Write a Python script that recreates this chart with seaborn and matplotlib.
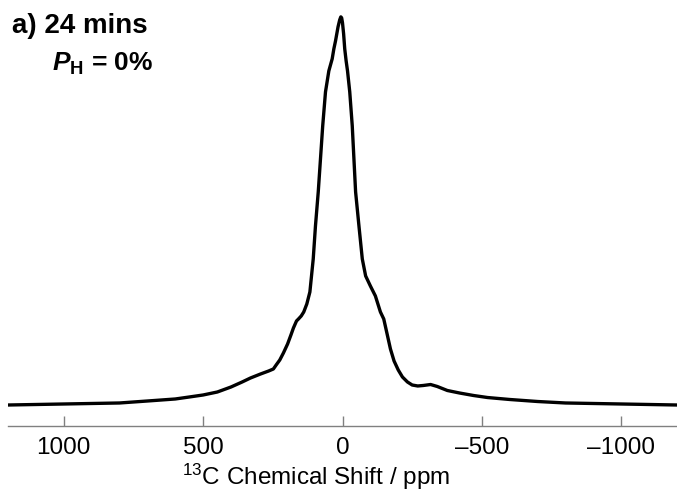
import matplotlib
matplotlib.use("Agg")
import matplotlib.pyplot as plt
import seaborn as sns
import pandas as pd

# --- values ---
# chemical shift (ppm), high to low
shift_ppm = [1200, 1100, 1000, 900, 800, 700, 600, 550, 500, 449, 400, 360, 330,
             294, 265, 248, 238, 225, 212, 197, 185, 176, 165, 158, 148, 139,
             128, 117, 105, 97, 87, 79, 71, 61, 49, 37, 31, 25, 16, 10, 6, 3, 0,
             -4, -8, -13, -18, -26, -35, -41, -47, -59, -71, -83, -100, -118,
             -136, -148, -160, -172, -185, -200, -215, -233, -250, -270, -290,
             -316, -340, -376, -420, -470, -520, -600, -700, -800, -1000, -1200]
# intensity, peak = 100
intensity = [0.0, 0.13, 0.26, 0.39, 0.52, 1.03, 1.55, 2.06, 2.58, 3.35, 4.64,
             5.93, 6.96, 7.99, 8.76, 9.28, 10.31, 11.60, 13.40, 15.72, 18.04,
             19.85, 21.65, 22.16, 22.94, 23.97, 26.03, 29.12, 37.63, 46.13,
             54.90, 63.40, 71.91, 80.67, 86.08, 89.18, 91.75, 93.81, 97.42,
             99.23, 100.0, 99.74, 98.45, 95.62, 91.75, 88.66, 86.08, 80.67,
             71.91, 63.40, 54.90, 46.13, 37.63, 33.25, 30.67, 28.09, 23.97,
             22.16, 18.30, 14.43, 11.34, 9.02, 7.22, 5.93, 5.15, 4.90, 5.03,
             5.28, 4.77, 3.74, 3.09, 2.45, 1.93, 1.42, 0.90, 0.52, 0.26, 0.0]
tick_values = [1000, 500, 0, -500, -1000]
tick_labels = ["1000", "500", "0", "\u2013500", "\u20131000"]

sns.set_theme(style="white")
plt.rcParams["font.family"] = ["Liberation Sans", "DejaVu Sans"]
plt.rcParams["text.color"] = "black"
plt.rcParams["mathtext.fontset"] = "custom"
plt.rcParams["mathtext.rm"] = "Liberation Sans"
plt.rcParams["mathtext.it"] = "Liberation Sans:italic"
plt.rcParams["mathtext.bf"] = "Liberation Sans:bold"
plt.rcParams["mathtext.bfit"] = "Liberation Sans:italic:bold"

df = pd.DataFrame({"shift": shift_ppm, "intensity": intensity})

fig = plt.figure(figsize=(6.77, 5.02), dpi=100)
ax = fig.add_axes([8 / 677, 75 / 502, 669 / 677, 427 / 502])

sns.lineplot(data=df, x="shift", y="intensity", sort=False, estimator=None,
             color="black", linewidth=2.4, ax=ax)
ax.lines[0].set_solid_capstyle("round")
ax.lines[0].set_solid_joinstyle("round")

ax.set_xlim(1200, -1200)
ax.set_ylim(-5.41, 104.6)
ax.set_yticks([])
ax.set_ylabel("")
ax.set_xticks(tick_values)
ax.set_xticklabels(tick_labels)
ax.tick_params(axis="x", direction="in", length=7, width=1, color="#808080",
               labelsize=17.5, labelcolor="black", pad=7, bottom=True)
for side in ["top", "left", "right"]:
    ax.spines[side].set_visible(False)
ax.spines["bottom"].set_color("#808080")
ax.spines["bottom"].set_linewidth(1)

ax.set_xlabel("$^{13}$C Chemical Shift / ppm", fontsize=17.5, color="black")
ax.xaxis.set_label_coords((316 - 8) / 669, -0.082)
ax.xaxis.label.set_va("top")

fig.text(12 / 677, 1 - 33 / 502, "a) 24 mins", fontsize=20, fontweight="bold",
         color="black", ha="left", va="baseline")
fig.text(52 / 677, 1 - 71 / 502, r"$\mathbfit{P}_{\mathbf{H}}$ = 0%",
         fontsize=19, fontweight="bold", color="black", ha="left", va="baseline")

fig.savefig("out.png", dpi=100, facecolor="white")
